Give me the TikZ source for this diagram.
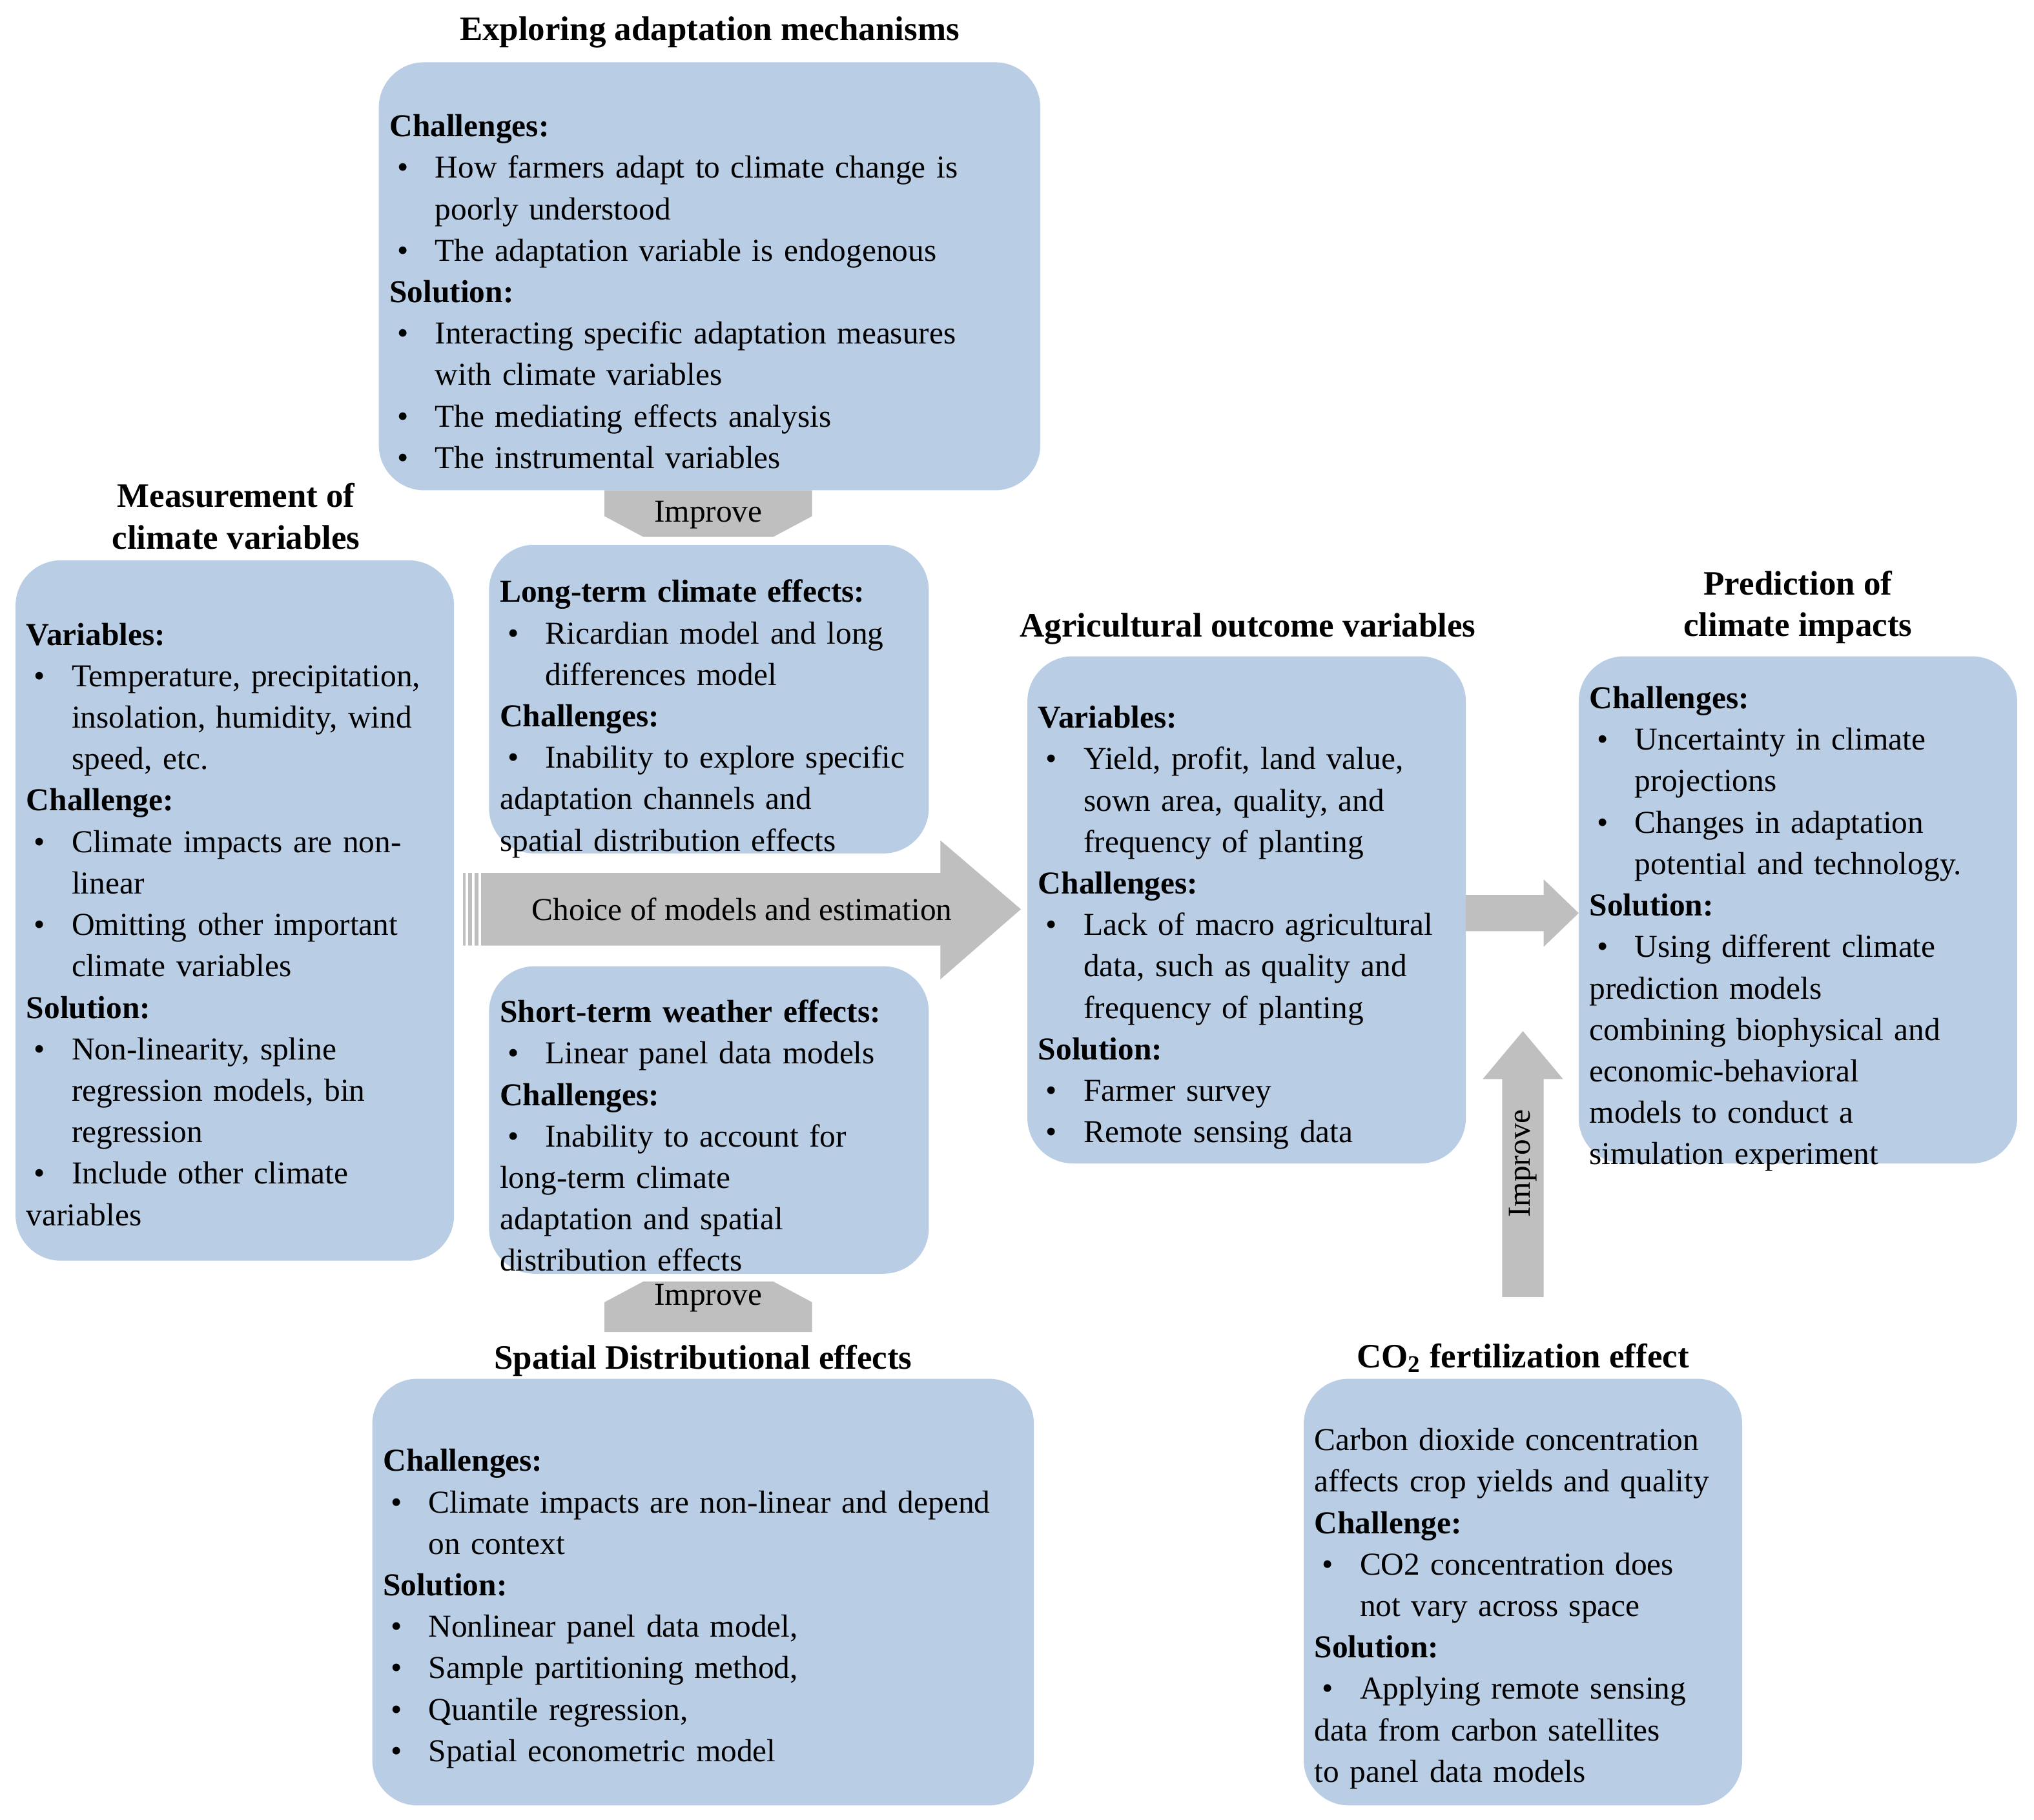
\documentclass[tikz,border=0pt]{standalone}
\usepackage{fontspec}
\setmainfont{Liberation Serif}
\newcommand\hd[1]{\par\noindent\textbf{#1}}
\newcommand\bi[1]{\par\noindent\hangindent=0.7cm\hangafter=1\makebox[0.7cm][l]{\hspace{0.12cm}\textbullet}#1}
\newcommand\pl[1]{\par\noindent #1}
\begin{document}
\begin{tikzpicture}[x=0.02cm,y=-0.02cm,
 box/.style={fill=boxc,rounded corners=0.7cm},
 txt/.style={anchor=north west,inner sep=0,text width=#1,align=left,font=\fontsize{14}{16.1}\selectfont\linespread{1.13}\selectfont},
 ttl/.style={font=\fontsize{15}{18.2}\selectfont\bfseries,align=center,inner sep=0},
 arr/.style={fill=arrc,draw=none}]
\definecolor{boxc}{HTML}{B9CDE5}
\definecolor{arrc}{HTML}{BFBFBF}
\useasboundingbox (0,0) rectangle (1568,1403);
% boxes
\fill[box] (292,48) rectangle (802,378);
\fill[box] (12,432) rectangle (350,972);
\fill[box] (377,420) rectangle (716,658);
\fill[box] (377,745) rectangle (716,982);
\fill[box] (792,506) rectangle (1130,897);
\fill[box] (1217,506) rectangle (1555,897);
\fill[box] (287,1063) rectangle (797,1392);
\fill[box] (1005,1063) rectangle (1343,1392);
% arrows
\fill[arr] (466,378) -- (626,378) -- (626,398) -- (596,414) -- (496,414) -- (466,398) -- cycle;
\node[inner sep=0,font=\fontsize{14}{16}\selectfont] (imp1) at (546,397) {Improve};
\fill[arr] (466,1027) -- (626,1027) -- (626,1004) -- (596,988) -- (496,988) -- (466,1004) -- cycle;
\node[inner sep=0,font=\fontsize{14}{16}\selectfont] (imp2) at (546,1001) {Improve};
\fill[arr] (357,673) -- (725,673) -- (725,648) -- (787,701) -- (725,755) -- (725,729) -- (357,729) -- cycle;
\foreach \x in {360,365,370}{\draw[white,line width=1.2pt] (\x,673) -- (\x,729);}
\node[inner sep=0,font=\fontsize{14}{16}\selectfont] (choice) at (572,701) {Choice of models and estimation};
\fill[arr] (1130,690) -- (1190,690) -- (1190,678) -- (1217,704) -- (1190,730) -- (1190,718) -- (1130,718) -- cycle;
\fill[arr] (1158,1000) -- (1158,832) -- (1143,832) -- (1174,795) -- (1205,832) -- (1190,832) -- (1190,1000) -- cycle;
\node[inner sep=0,rotate=90,font=\fontsize{14}{16}\selectfont] (imp3) at (1174,897) {Improve};
% titles
\node[ttl] (t1) at (547,25) {Exploring adaptation mechanisms};
\node[ttl] (t2) at (182,398) {Measurement of\\climate variables};
\node[ttl] (t3) at (962,485) {Agricultural outcome variables};
\node[ttl] (t4) at (1386,468) {Prediction of\\climate impacts};
\node[ttl] (t5) at (542,1049) {Spatial Distributional effects};
\node[ttl] (t6) at (1174,1047) {CO\textsubscript{2} fertilization effect};
% texts
\node[txt=480] (a) at (300,73) {\hd{Challenges:}\bi{How farmers adapt to climate change is\newline poorly understood}\bi{The adaptation variable is endogenous}\hd{Solution:}\bi{Interacting specific adaptation measures\newline with climate variables}\bi{The mediating effects analysis}\bi{The instrumental variables}};
\node[txt=330] (m) at (20,465) {\hd{Variables:}\bi{Temperature, precipitation,\newline insolation, humidity, wind\newline speed, etc.}\hd{Challenge:}\bi{Climate impacts are non-\newline linear}\bi{Omitting other important\newline climate variables}\hd{Solution:}\bi{Non-linearity, spline\newline regression models, bin\newline regression}\bi{Include other climate\newline variables}};
\node[txt=330] (l) at (385,432) {\hd{Long-term climate effects:}\bi{Ricardian model and long\newline differences model}\hd{Challenges:}\bi{Inability to explore specific\newline adaptation channels and\newline spatial distribution effects}};
\node[txt=330] (s) at (385,756) {\hd{Short-term weather effects:}\bi{Linear panel data models}\hd{Challenges:}\bi{Inability to account for\newline long-term climate\newline adaptation and spatial\newline distribution effects}};
\node[txt=330] (g) at (800,529) {\hd{Variables:}\bi{Yield, profit, land value,\newline sown area, quality, and\newline frequency of planting}\hd{Challenges:}\bi{Lack of macro agricultural\newline data, such as quality and\newline frequency of planting}\hd{Solution:}\bi{Farmer survey}\bi{Remote sensing data}};
\node[txt=335] (p) at (1225,514) {\hd{Challenges:}\bi{Uncertainty in climate\newline projections}\bi{Changes in adaptation\newline potential and technology.}\hd{Solution:}\bi{Using different climate\newline prediction models\newline combining biophysical and\newline economic-behavioral\newline models to conduct a\newline simulation experiment}};
\node[txt=490] (sp) at (295,1102) {\hd{Challenges:}\bi{Climate impacts are non-linear and depend\newline on context}\hd{Solution:}\bi{Nonlinear panel data model,}\bi{Sample partitioning method,}\bi{Quantile regression,}\bi{Spatial econometric model}};
\node[txt=330] (c) at (1013,1086) {\pl{Carbon dioxide concentration\newline affects crop yields and quality}\hd{Challenge:}\bi{CO2 concentration does\newline not vary across space}\hd{Solution:}\bi{Applying remote sensing\newline data from carbon satellites\newline to panel data models}};
\end{tikzpicture}
\end{document}
